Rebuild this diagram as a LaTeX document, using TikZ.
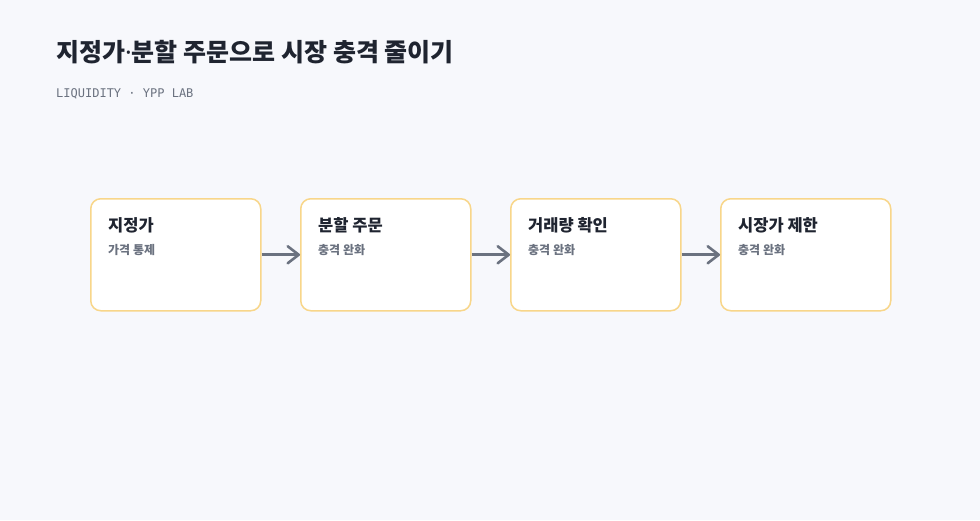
\documentclass[tikz,border=0pt]{standalone}
\usepackage{fontspec}
\setmainfont{Noto Sans CJK KR}
\newfontfamily\monofont{DejaVu Sans Mono}
\newfontfamily\latinfont{Noto Sans}
\usetikzlibrary{arrows.meta}
\definecolor{bgc}{HTML}{F7F8FC}
\definecolor{titlec}{HTML}{1F2430}
\definecolor{grayc}{HTML}{6B7280}
\definecolor{borderc}{HTML}{F8D68A}
\definecolor{arrowc}{HTML}{6B7280}
\tikzset{
  stepbox/.style={draw=borderc, line width=1.5pt, fill=white, rounded corners=10pt,
    minimum width=170pt, minimum height=112pt, inner sep=0pt, anchor=north west},
  boxtitle/.style={anchor=base west, inner sep=0pt, font=\fontsize{16.5pt}{18pt}\selectfont\bfseries, text=titlec},
  boxsub/.style={anchor=base west, inner sep=0pt, font=\fontsize{12pt}{14pt}\selectfont\bfseries, text=grayc},
  flow/.style={draw=arrowc, line width=2.6pt, -{Straight Barb[length=11pt,width=17pt,line cap=round,line join=round]}}
}
\begin{document}
\begin{tikzpicture}[x=1pt,y=-1pt]
\path[fill=bgc] (0,0) rectangle (980,520);
\useasboundingbox (0,0) rectangle (980,520);
\node[anchor=base west, inner sep=0pt, font=\fontsize{25pt}{28pt}\selectfont\bfseries, text=titlec] (title) at (56,61) {지정가{\latinfont\bfseries ·}분할 주문으로 시장 충격 줄이기};
\node[anchor=base west, inner sep=0pt, font=\monofont\fontsize{12pt}{14pt}\selectfont, text=grayc] (sub) at (56,97) {LIQUIDITY · YPP LAB};

\node[stepbox] (b1) at (90,198) {};
\node[stepbox] (b2) at (300,198) {};
\node[stepbox] (b3) at (510,198) {};
\node[stepbox] (b4) at (720,198) {};

\node[boxtitle] (t1) at (108,231) {지정가};
\node[boxsub] (s1) at (108,254) {가격 통제};
\node[boxtitle] (t2) at (318,231) {분할 주문};
\node[boxsub] (s2) at (318,254) {충격 완화};
\node[boxtitle] (t3) at (528,231) {거래량 확인};
\node[boxsub] (s3) at (528,254) {충격 완화};
\node[boxtitle] (t4) at (738,231) {시장가 제한};
\node[boxsub] (s4) at (738,254) {충격 완화};

\draw[flow] (b1.east) -- (b2.west);
\draw[flow] (b2.east) -- (b3.west);
\draw[flow] (b3.east) -- (b4.west);
\end{tikzpicture}
\end{document}
